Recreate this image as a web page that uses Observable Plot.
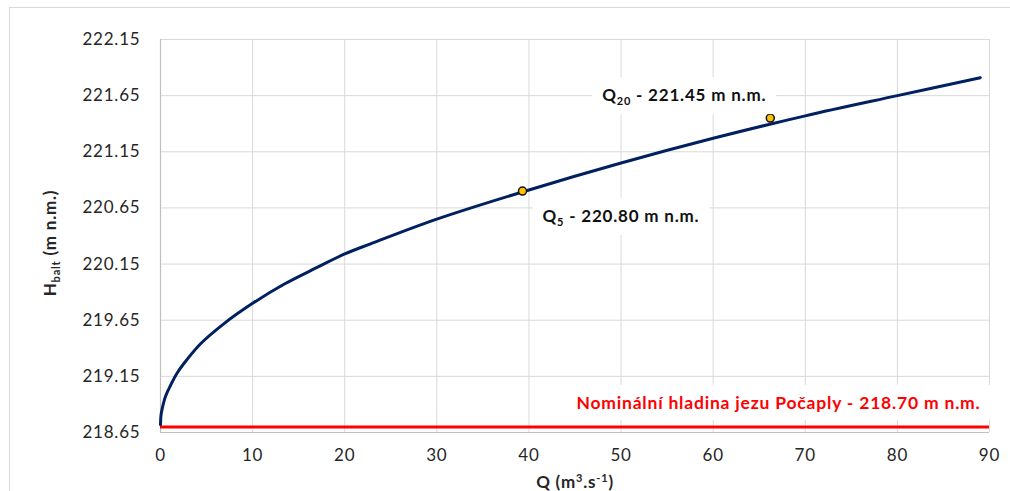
<!DOCTYPE html>
<html><head><meta charset="utf-8">
<script src="https://cdn.jsdelivr.net/npm/d3@7"></script>
<script src="https://cdn.jsdelivr.net/npm/@observablehq/plot@0.6"></script>
<style>
html,body{margin:0;padding:0;background:#fff;}
#chart{position:relative;width:1010px;height:491px;overflow:hidden;}
#frame{position:absolute;left:9px;top:7px;width:1100px;height:600px;border:1px solid #d9d9d9;box-sizing:border-box;pointer-events:none;}
svg text{letter-spacing:0.8px;}
</style></head>
<body><div id="chart"><div id="frame"></div></div>
<script>
// rating curve Q [m3/s] -> H [m n.m.]
const discharge = [0, 0.05, 0.18, 0.54, 1.09, 1.81, 2.5, 4.35, 6.9, 10, 13.4, 17, 20, 22.8, 30, 40, 50, 60, 70, 80, 89];
const level     = [218.72, 218.80, 218.86, 218.97, 219.07, 219.18, 219.26, 219.44, 219.62, 219.80, 219.97, 220.12, 220.24, 220.33, 220.55, 220.81, 221.05, 221.27, 221.47, 221.65, 221.81];

// highlighted flood discharges
const markerQ = [39.3, 66.2];
const markerH = [220.80, 221.45];
const markerLabels = ["Q_{5} - 220.80 m n.m.", "Q_{20} - 221.45 m n.m."];

// nominal weir level
const nominalH = 218.70;
const nominalLabel = "Nominální hladina jezu Počaply - 218.70 m n.m.";

// axes
const xTicks = [0, 10, 20, 30, 40, 50, 60, 70, 80, 90];
const yTicks = [218.65, 219.15, 219.65, 220.15, 220.65, 221.15, 221.65, 222.15];
const xTitle = "Q (m^{3}.s^{-1})";
const yTitle = "H_{balt} (m n.m.)";

const curveData = discharge.map((q, i) => ({Q: q, H: level[i]}));
const markers = markerQ.map((q, i) => ({Q: q, H: markerH[i], label: markerLabels[i]}));

const font = "Lato, 'Open Sans', sans-serif";

const chart = Plot.plot({
  width: 1010, height: 491,
  marginLeft: 160, marginRight: 21, marginTop: 39, marginBottom: 59,
  style: {fontFamily: font, fontSize: "17px", color: "#262626", background: "white", overflow: "visible"},
  x: {domain: [0, 90], label: null},
  y: {domain: [218.65, 222.15], label: null},
  marks: [
    Plot.gridX(xTicks, {stroke: "#d9d9d9", strokeOpacity: 1, strokeWidth: 1}),
    Plot.gridY(yTicks, {stroke: "#d9d9d9", strokeOpacity: 1, strokeWidth: 1}),
    Plot.ruleY([yTicks[0]], {stroke: "#bfbfbf", strokeWidth: 1.2}),
    Plot.ruleX([xTicks[0]], {stroke: "#bfbfbf", strokeWidth: 1.2}),
    Plot.axisX(xTicks, {tickSize: 0, tickPadding: 16, fontSize: 17, fill: "#262626"}),
    Plot.axisY(yTicks, {tickSize: 0, tickPadding: 20, fontSize: 17, fill: "#262626", tickFormat: d3.format(".2f")}),
    Plot.ruleY([nominalH], {stroke: "#ff0000", strokeWidth: 3}),
    Plot.line(curveData, {x: "Q", y: "H", stroke: "#002060", strokeWidth: 3, curve: "catmull-rom"}),
    Plot.dot(markers, {x: "Q", y: "H", r: 4, fill: "#ffc000", stroke: "#111", strokeWidth: 1.5}),
    Plot.text([markers[1]], {x: "Q", y: "H", text: "label", textAnchor: "end", lineAnchor: "bottom", dx: -4, dy: -17,
      fontSize: 17, fontWeight: "bold", fill: "#111", ariaDescription: "annotation"}),
    Plot.text([markers[0]], {x: "Q", y: "H", text: "label", textAnchor: "start", lineAnchor: "bottom", dx: 20, dy: 31,
      fontSize: 17, fontWeight: "bold", fill: "#111", ariaDescription: "annotation"}),
    Plot.text([nominalLabel], {frameAnchor: "right", y: [nominalH], text: d => d, textAnchor: "end", lineAnchor: "bottom",
      dx: -9, dy: -18, fontSize: 17.5, fontWeight: "bold", fill: "#ff0000", ariaDescription: "annotation"}),
    Plot.text([xTitle], {frameAnchor: "bottom", text: d => d, textAnchor: "middle", lineAnchor: "bottom", dy: 55, fontSize: 17, fontWeight: "bold",
      fill: "#262626", ariaDescription: "title"}),
    Plot.text([yTitle], {frameAnchor: "left", text: d => d, textAnchor: "middle", rotate: -90, dx: -110, dy: 7, fontSize: 17, fontWeight: "bold",
      fill: "#262626", ariaDescription: "title"})
  ]
});

document.getElementById("chart").prepend(chart);

const NS = "http://www.w3.org/2000/svg";
function richify(el) {
  const s = el.textContent;
  const parts = s.split(/([_^]\{[^}]*\})/);
  if (parts.length === 1) return;
  el.textContent = "";
  let shift = 0;
  for (const p of parts) {
    if (!p) continue;
    const m = p.match(/^([_^])\{(.*)\}$/);
    const ts = document.createElementNS(NS, "tspan");
    if (m) {
      const target = m[1] === "_" ? 4 : -6;
      ts.setAttribute("dy", target - shift);
      shift = target;
      ts.setAttribute("font-size", "11");
      ts.textContent = m[2];
    } else {
      if (shift !== 0) ts.setAttribute("dy", -shift);
      shift = 0;
      ts.textContent = p;
    }
    el.appendChild(ts);
  }
}
const svg = d3.select(chart);
svg.selectAll("g[aria-description=annotation] text, g[aria-description=title] text").each(function() { richify(this); });

// white boxes behind annotation labels
svg.selectAll("g[aria-description=annotation] text").each(function() {
  const b = this.getBBox();
  const r = document.createElementNS(NS, "rect");
  const px = 10, py = 7;
  r.setAttribute("x", b.x - px);
  r.setAttribute("y", b.y - py);
  r.setAttribute("width", b.width + 2 * px);
  r.setAttribute("height", b.height + 2 * py);
  r.setAttribute("fill", "white");
  const t = this.getAttribute("transform");
  if (t) r.setAttribute("transform", t);
  this.parentNode.insertBefore(r, this);
});
</script>
</body></html>
